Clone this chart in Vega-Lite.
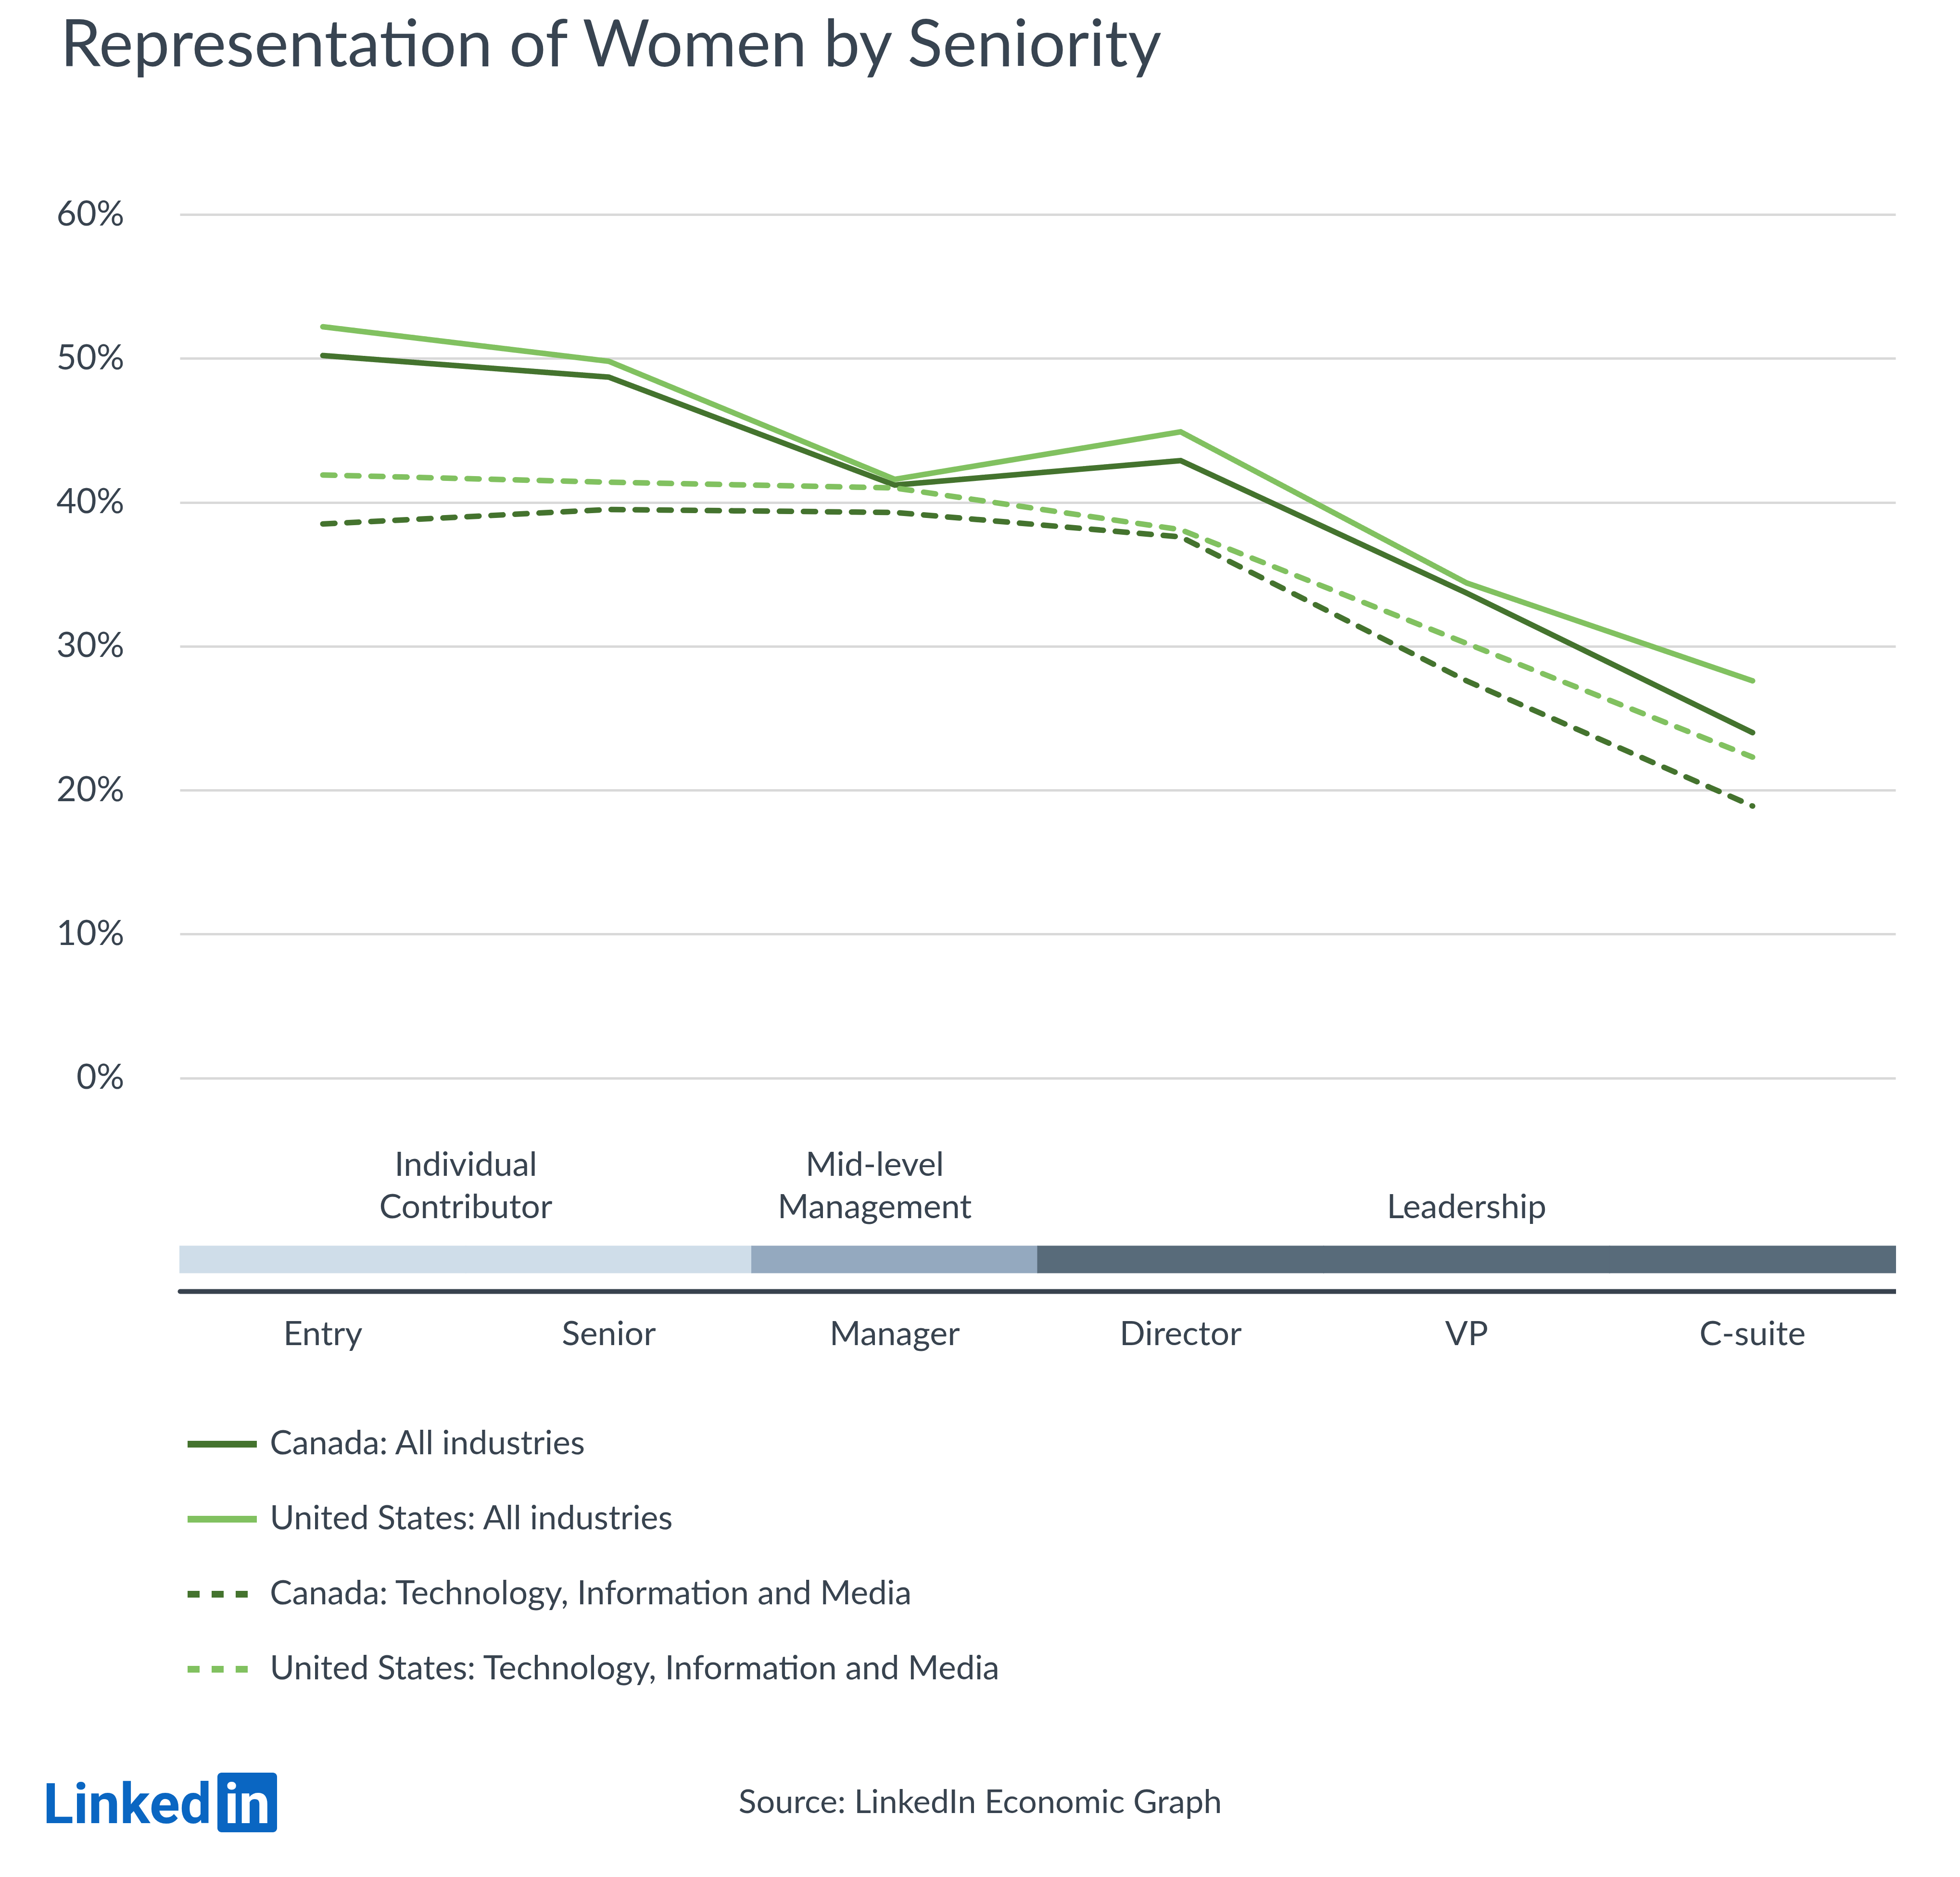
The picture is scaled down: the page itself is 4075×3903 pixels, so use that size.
{
  "$schema": "https://vega.github.io/schema/vega-lite/v6.json",
  "background": "white",
  "padding": {"left": 89, "top": 30, "right": 0, "bottom": 0},
  "autosize": {"type": "pad"},
  "title": {
    "text": "Representation of Women by Seniority",
    "anchor": "start",
    "frame": "bounds",
    "font": "Lato",
    "fontSize": 135,
    "fontWeight": "normal",
    "color": "#384451",
    "dx": 36,
    "offset": 244
  },
  "datasets": {
    "shares": [
      {"level": "Entry", "series": "Canada: All industries", "share": 0.502},
      {"level": "Senior", "series": "Canada: All industries", "share": 0.487},
      {"level": "Manager", "series": "Canada: All industries", "share": 0.412},
      {"level": "Director", "series": "Canada: All industries", "share": 0.429},
      {"level": "VP", "series": "Canada: All industries", "share": 0.337},
      {"level": "C-suite", "series": "Canada: All industries", "share": 0.240},
      {"level": "Entry", "series": "United States: All industries", "share": 0.522},
      {"level": "Senior", "series": "United States: All industries", "share": 0.498},
      {"level": "Manager", "series": "United States: All industries", "share": 0.416},
      {"level": "Director", "series": "United States: All industries", "share": 0.449},
      {"level": "VP", "series": "United States: All industries", "share": 0.344},
      {"level": "C-suite", "series": "United States: All industries", "share": 0.276},
      {"level": "Entry", "series": "Canada: Technology, Information and Media", "share": 0.385},
      {"level": "Senior", "series": "Canada: Technology, Information and Media", "share": 0.395},
      {"level": "Manager", "series": "Canada: Technology, Information and Media", "share": 0.393},
      {"level": "Director", "series": "Canada: Technology, Information and Media", "share": 0.376},
      {"level": "VP", "series": "Canada: Technology, Information and Media", "share": 0.276},
      {"level": "C-suite", "series": "Canada: Technology, Information and Media", "share": 0.189},
      {"level": "Entry", "series": "United States: Technology, Information and Media", "share": 0.419},
      {"level": "Senior", "series": "United States: Technology, Information and Media", "share": 0.414},
      {"level": "Manager", "series": "United States: Technology, Information and Media", "share": 0.410},
      {"level": "Director", "series": "United States: Technology, Information and Media", "share": 0.381},
      {"level": "VP", "series": "United States: Technology, Information and Media", "share": 0.302},
      {"level": "C-suite", "series": "United States: Technology, Information and Media", "share": 0.223}
    ],
    "levels": [
      {"level": "Entry", "group": "Individual Contributor"},
      {"level": "Senior", "group": "Individual Contributor"},
      {"level": "Manager", "group": "Mid-level Management"},
      {"level": "Director", "group": "Leadership"},
      {"level": "VP", "group": "Leadership"},
      {"level": "C-suite", "group": "Leadership"}
    ],
    "footer": [
      {"brand": "Linked", "badge": "in", "source": "Source: LinkedIn Economic Graph"}
    ]
  },
  "spacing": 875,
  "vconcat": [
    {
      "width": 3567,
      "height": 2239,
      "encoding": {
        "x": {
          "field": "level",
          "type": "ordinal",
          "sort": ["Entry", "Senior", "Manager", "Director", "VP", "C-suite"],
          "scale": {"type": "band", "paddingInner": 0, "paddingOuter": 0, "domain": ["Entry", "Senior", "Manager", "Director", "VP", "C-suite"]},
          "axis": {
            "title": null,
            "orient": "bottom",
            "labelAngle": 0,
            "labelFont": "Lato",
            "labelFontSize": 70,
            "labelColor": "#38434f",
            "labelBaseline": "alphabetic",
            "labelPadding": 111,
            "labelLimit": 2000,
            "ticks": false,
            "tickSize": 0,
            "grid": false,
            "domain": true,
            "domainColor": "#38424e",
            "domainWidth": 10,
            "domainCap": "round"
          }
        }
      },
      "layer": [
        {
          "data": {"name": "levels"},
          "mark": {"type": "bar", "strokeWidth": 2},
          "encoding": {
            "y": {"datum": -0.1168},
            "y2": {"datum": -0.1352},
            "fill": {
              "field": "group",
              "type": "nominal",
              "scale": {"domain": ["Individual Contributor", "Mid-level Management", "Leadership"], "range": ["#cfdde9", "#94a9bf", "#586b7a"]},
              "legend": null
            },
            "stroke": {
              "field": "group",
              "type": "nominal",
              "scale": {"domain": ["Individual Contributor", "Mid-level Management", "Leadership"], "range": ["#cfdde9", "#94a9bf", "#586b7a"]},
              "legend": null
            }
          }
        },
        {
          "data": {"name": "shares"},
          "mark": {"type": "line", "strokeWidth": 11.5, "strokeCap": "round", "strokeJoin": "miter"},
          "encoding": {
            "y": {
              "field": "share",
              "type": "quantitative",
              "scale": {"domain": [-0.1481, 0.6], "nice": false, "zero": false},
              "axis": {
                "title": null,
                "values": [0, 0.1, 0.2, 0.3, 0.4, 0.5, 0.6],
                "format": ".0%",
                "labelFont": "Lato",
                "labelFontSize": 72,
                "labelColor": "#38434f",
                "labelPadding": 116,
                "labelBaseline": "middle",
                "domain": false,
                "ticks": false,
                "grid": true,
                "gridColor": "#d9d9d9",
                "gridWidth": 5
              }
            },
            "color": {
              "field": "series",
              "type": "nominal",
              "scale": {
                "domain": ["Canada: All industries", "United States: All industries", "Canada: Technology, Information and Media", "United States: Technology, Information and Media"],
                "range": ["#44732e", "#81c160", "#44732e", "#81c160"]
              },
              "legend": {
                "title": null,
                "orient": "none",
                "legendX": 9,
                "legendY": 2478,
                "direction": "vertical",
                "padding": 0,
                "symbolType": "stroke",
                "symbolSize": 20736,
                "symbolStrokeWidth": 14,
                "labelFont": "Lato",
                "labelFontSize": 69.5,
                "labelColor": "#38434f",
                "labelOffset": 20,
                "labelLimit": 3000,
                "rowPadding": 42
              }
            },
            "strokeDash": {
              "field": "series",
              "type": "nominal",
              "scale": {
                "domain": ["Canada: All industries", "United States: All industries", "Canada: Technology, Information and Media", "United States: Technology, Information and Media"],
                "range": [[1, 0], [1, 0], [25, 25], [25, 25]]
              },
              "legend": {
                "title": null,
                "orient": "none",
                "legendX": 9,
                "legendY": 2478,
                "direction": "vertical",
                "padding": 0,
                "symbolType": "stroke",
                "symbolSize": 20736,
                "symbolStrokeWidth": 14,
                "labelFont": "Lato",
                "labelFontSize": 69.5,
                "labelColor": "#38434f",
                "labelOffset": 20,
                "labelLimit": 3000,
                "rowPadding": 42
              }
            }
          }
        },
        {
          "data": {"name": "levels"},
          "transform": [{"filter": "datum.level === 'Senior'"}],
          "mark": {"type": "text", "font": "Lato", "fontSize": 70, "color": "#38434f", "align": "center", "baseline": "top", "lineBreak": " ", "lineHeight": 88},
          "encoding": {
            "x": {"field": "level", "type": "ordinal", "bandPosition": 0},
            "y": {"datum": -0.0496},
            "text": {"field": "group"}
          }
        },
        {
          "data": {"name": "levels"},
          "transform": [{"filter": "datum.level === 'Manager'"}],
          "mark": {"type": "text", "font": "Lato", "fontSize": 70, "color": "#38434f", "align": "center", "baseline": "top", "lineBreak": " ", "lineHeight": 88},
          "encoding": {
            "x": {"field": "level", "type": "ordinal", "bandPosition": 0.43},
            "y": {"datum": -0.0496},
            "text": {"field": "group"}
          }
        },
        {
          "data": {"name": "levels"},
          "transform": [{"filter": "datum.level === 'VP'"}],
          "mark": {"type": "text", "font": "Lato", "fontSize": 70, "color": "#38434f", "align": "center", "baseline": "top"},
          "encoding": {
            "x": {"field": "level", "type": "ordinal", "bandPosition": 0.5},
            "y": {"datum": -0.0790},
            "text": {"field": "group"}
          }
        }
      ]
    },
    {
      "width": 3567,
      "height": 124,
      "data": {"name": "footer"},
      "layer": [
        {
          "mark": {"type": "point", "shape": "M-0.86,-1H0.86A0.14,0.14 0 0 1 1,-0.86V0.86A0.14,0.14 0 0 1 0.86,1H-0.86A0.14,0.14 0 0 1 -1,0.86V-0.86A0.14,0.14 0 0 1 -0.86,-1Z", "filled": true, "fill": "#0a66c2", "opacity": 1, "strokeWidth": 0, "size": 15376, "xOffset": -1643.5},
          "encoding": {}
        },
        {
          "mark": {"type": "text", "font": "Roboto", "fontWeight": "bold", "fontSize": 117, "color": "#0a66c2", "align": "left", "baseline": "alphabetic", "dx": -2068, "dy": 43},
          "encoding": {"text": {"field": "brand"}}
        },
        {
          "mark": {"type": "text", "font": "Roboto", "fontWeight": "bold", "fontSize": 116, "color": "#ffffff", "align": "center", "baseline": "alphabetic", "dx": -1643.5, "dy": 43},
          "encoding": {"text": {"field": "badge"}}
        },
        {
          "mark": {"type": "text", "font": "Lato", "fontSize": 68.5, "color": "#38434f", "align": "center", "baseline": "alphabetic", "dx": -119.5, "dy": 22},
          "encoding": {"text": {"field": "source"}}
        }
      ]
    }
  ],
  "config": {
    "view": {"stroke": null},
    "font": "Lato"
  }
}
